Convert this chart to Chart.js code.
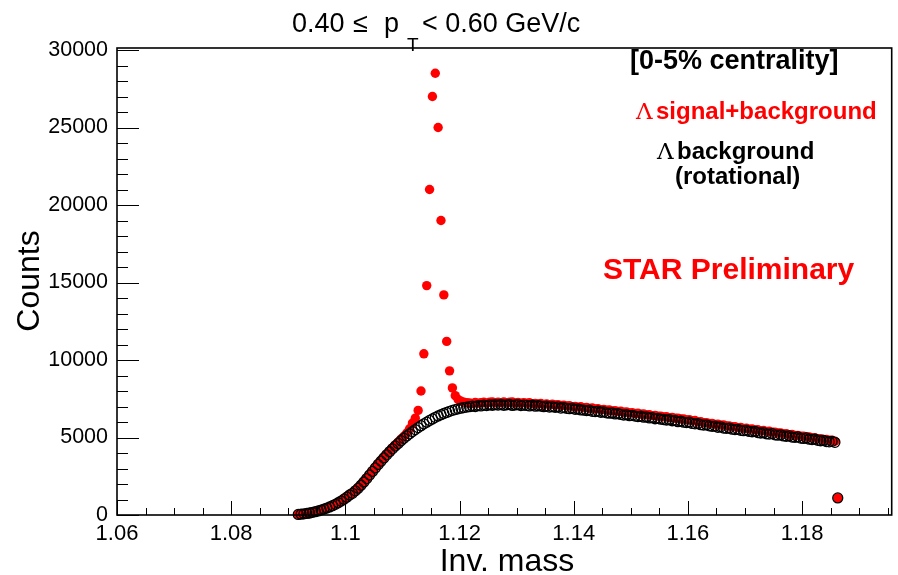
<!DOCTYPE html>
<html>
<head>
<meta charset="utf-8">
<script src="https://cdn.jsdelivr.net/npm/chart.js@4.4.1/dist/chart.umd.min.js"></script>
<style>
  body { margin: 0; background: #fff; }
  canvas { display: block; }
</style>
</head>
<body>
<canvas id="massChart" width="898" height="575"></canvas>
<script>
// histogram binning of the invariant mass axis (0.5 MeV bins)
var binLo = 1.0915;
var binW = 0.0005;

var xTicks = [1.06, 1.08, 1.1, 1.12, 1.14, 1.16, 1.18];
var yTicks = [0, 5000, 10000, 15000, 20000, 25000, 30000];

// Lambda background (rotational), black open circles
var bkg = [
  40, 55, 75, 100, 130, 170, 215, 265, 320, 385,
  450, 520, 600, 690, 790, 900, 1020, 1150, 1290, 1400,
  1560, 1730, 1920, 2130, 2350, 2580, 2810, 3040, 3260, 3470,
  3680, 3880, 4080, 4270, 4450, 4620, 4790, 4950, 5100, 5240,
  5380, 5510, 5640, 5760, 5880, 5990, 6100, 6200, 6300, 6390,
  6470, 6550, 6620, 6690, 6750, 6800, 6850, 6890, 6930, 6960,
  6990, 7030, 7000, 7060, 7040, 7090, 7060, 7110, 7080, 7120,
  7090, 7130, 7080, 7110, 7130, 7070, 7100, 7120, 7060, 7090,
  7070, 7040, 7080, 7020, 7050, 7030, 6990, 7020, 6960, 6990,
  6950, 6970, 6900, 6930, 6880, 6860, 6890, 6820, 6840, 6780,
  6770, 6740, 6760, 6690, 6670, 6700, 6630, 6650, 6590, 6570,
  6580, 6520, 6540, 6490, 6450, 6470, 6410, 6430, 6380, 6350,
  6370, 6310, 6330, 6260, 6280, 6210, 6240, 6180, 6160, 6130,
  6150, 6080, 6100, 6020, 6050, 5990, 5960, 5990, 5910, 5880,
  5900, 5830, 5800, 5820, 5750, 5720, 5740, 5660, 5690, 5610,
  5590, 5610, 5540, 5510, 5530, 5460, 5440, 5460, 5390, 5370,
  5390, 5320, 5290, 5310, 5240, 5220, 5250, 5170, 5150, 5170,
  5100, 5080, 5110, 5030, 5010, 5040, 4960, 4940, 4970, 4890,
  4870, 4900, 4820, 4790, 4810, 4740, 4720, 4750, 4690, 1100
];

// Lambda signal+background, red filled circles
var sigBkg = [
  45, 60, 80, 105, 140, 175, 225, 275, 330, 395,
  465, 535, 615, 710, 810, 920, 1045, 1175, 1310, 1430,
  1590, 1760, 1950, 2170, 2390, 2620, 2850, 3090, 3310, 3520,
  3740, 3940, 4140, 4340, 4530, 4710, 4900, 5080, 5290, 5560,
  5930, 6250, 6750, 8000, 10400, 14800, 21000, 27000, 28500, 25000,
  19000, 14200, 11200, 9300, 8200, 7700, 7450, 7350, 7280, 7250,
  7230, 7190, 7260, 7210, 7250, 7280, 7220, 7270, 7300, 7240,
  7280, 7250, 7300, 7240, 7270, 7290, 7230, 7260, 7220, 7250,
  7210, 7240, 7180, 7200, 7160, 7190, 7140, 7170, 7120, 7150,
  7100, 7120, 7060, 7080, 7030, 7050, 6990, 7010, 6960, 6980,
  6920, 6940, 6880, 6900, 6840, 6860, 6800, 6810, 6760, 6770,
  6720, 6730, 6680, 6690, 6630, 6650, 6590, 6600, 6550, 6560,
  6500, 6520, 6460, 6470, 6410, 6430, 6370, 6380, 6330, 6340,
  6280, 6290, 6240, 6250, 6190, 6200, 6140, 6150, 6090, 6100,
  6000, 6020, 5950, 5960, 5900, 5910, 5850, 5860, 5800, 5810,
  5740, 5750, 5690, 5700, 5640, 5650, 5590, 5600, 5540, 5550,
  5490, 5500, 5440, 5450, 5390, 5400, 5340, 5350, 5290, 5300,
  5230, 5240, 5180, 5190, 5130, 5140, 5080, 5090, 5030, 5040,
  4970, 4980, 4920, 4930, 4870, 4870, 4820, 4820, 4760, 1100
];

var mass = sigBkg.map(function (v, i) { return binLo + binW * (i + 0.5); });

var FONT = '"Liberation Sans", Arial, Helvetica, sans-serif';

// ROOT-like frame with inward ticks, title and text labels
var rootFrame = {
  id: 'rootFrame',
  afterDraw: function (chart) {
    var c = chart.ctx;
    var a = chart.chartArea;
    var xs = chart.scales.x, ys = chart.scales.y;
    c.save();
    c.strokeStyle = '#000';
    c.lineWidth = 1;
    for (var k = 0; k <= 27; k++) {
      var px = Math.round(xs.getPixelForValue(1.06 + k * 0.005)) + 0.5;
      var len = (k % 4 === 0) ? 14 : 7;
      c.beginPath(); c.moveTo(px, a.bottom); c.lineTo(px, a.bottom - len); c.stroke();
    }
    for (var j = 0; j <= 30; j++) {
      var py = Math.round(ys.getPixelForValue(j * 1000)) + 0.5;
      var ln = (j % 5 === 0) ? 22 : 11;
      c.beginPath(); c.moveTo(a.left, py); c.lineTo(a.left + ln, py); c.stroke();
    }
    c.lineWidth = 1.6;
    c.strokeRect(a.left, a.top, a.right - a.left, a.bottom - a.top);

    c.fillStyle = '#000';
    c.textBaseline = 'alphabetic';
    // title
    c.textAlign = 'left';
    c.font = '27px ' + FONT;
    c.fillText('0.40', 292, 32);
    c.fillText('\u2264', 353, 32);
    c.fillText('p', 384, 32);
    c.font = '19px ' + FONT;
    c.fillText('T', 407, 51);
    c.font = '27px ' + FONT;
    c.fillText('< 0.60 GeV/c', 422, 32);

    // axis titles
    c.font = '32px ' + FONT;
    c.textAlign = 'center';
    c.fillText('Inv. mass', 507, 571);
    c.save();
    c.translate(39, 281);
    c.rotate(-Math.PI / 2);
    c.fillText('Counts', 0, 0);
    c.restore();

    // annotations
    c.textAlign = 'left';
    c.font = 'bold 27px ' + FONT;
    c.fillText('[0-5% centrality]', 630, 69);

    c.fillStyle = '#ff0000';
    c.font = '23px "DejaVu Serif", serif';
    c.fillText('\u039b', 636, 119);
    c.font = 'bold 24px ' + FONT;
    c.fillText('signal+background', 656, 119);

    c.fillStyle = '#000';
    c.font = '23px "DejaVu Serif", serif';
    c.fillText('\u039b', 657, 159);
    c.font = 'bold 24px ' + FONT;
    c.fillText('background', 677, 159);
    c.fillText('(rotational)', 675, 184);

    c.fillStyle = '#ff0000';
    c.font = 'bold 30px ' + FONT;
    c.fillText('STAR Preliminary', 603, 279);
    c.restore();
  }
};

var ctx = document.getElementById('massChart').getContext('2d');

var myChart = new Chart(ctx, {
  type: 'scatter',
  data: {
    datasets: [{
        label: 'background (rotational)',
        data: mass.map(function (m, i) { return { x: m, y: bkg[i] }; }),
        pointStyle: 'circle',
        pointRadius: 5,
        borderColor: '#000000',
        borderWidth: 1.3,
        backgroundColor: 'rgba(0,0,0,0)',
        clip: false
      },
      {
        label: 'signal+background',
        data: mass.map(function (m, i) { return { x: m, y: sigBkg[i] }; }),
        pointStyle: 'circle',
        pointRadius: 4.7,
        borderColor: '#ff0000',
        borderWidth: 0,
        backgroundColor: '#ff0000',
        clip: false
      }
    ]
  },
  options: {
    responsive: false,
    animation: false,
    events: [],
    layout: { padding: { left: 0, right: 1, top: 48, bottom: 0 } },
    plugins: {
      legend: { display: false },
      tooltip: { enabled: false }
    },
    scales: {
      x: {
        type: 'linear',
        min: 1.06,
        max: 1.1957,
        grid: { display: false, drawTicks: false },
        border: { display: false },
        afterFit: function (s) { s.height = 60; },
        afterBuildTicks: function (s) { s.ticks = xTicks.map(function (v) { return { value: v }; }); },
        ticks: {
          padding: 6,
          color: '#000',
          maxRotation: 0,
          autoSkip: false,
          font: { family: FONT, size: 22 },
          callback: function (v) { return String(Number(v.toFixed(2))); }
        }
      },
      y: {
        type: 'linear',
        min: 0,
        max: 30130,
        grid: { display: false, drawTicks: false },
        border: { display: false },
        afterFit: function (s) { s.width = 117; },
        afterBuildTicks: function (s) { s.ticks = yTicks.map(function (v) { return { value: v }; }); },
        ticks: {
          padding: 9,
          color: '#000',
          autoSkip: false,
          font: { family: FONT, size: 21.5 },
          callback: function (v) { return String(v); }
        }
      }
    }
  },
  plugins: [rootFrame]
});
</script>
</body>
</html>
